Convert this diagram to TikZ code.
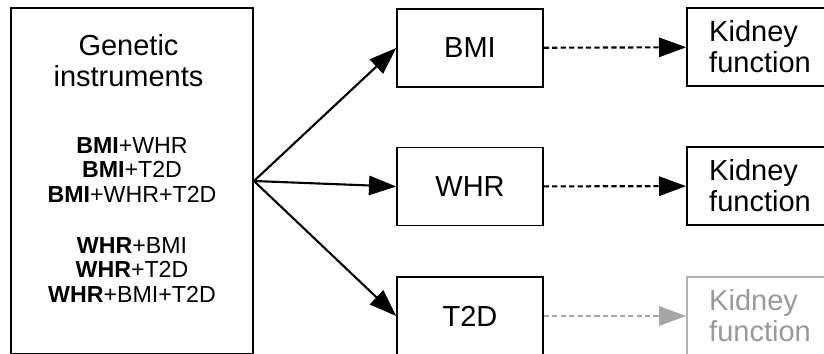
\documentclass[tikz,border=0pt]{standalone}
\usepackage{fontspec}
\setmainfont{Liberation Sans}
\usetikzlibrary{arrows.meta}

\begin{document}
\begin{tikzpicture}[x=0.02cm, y=-0.02cm,
  every node/.style={font=\fontsize{16.5}{17.6}\selectfont},
  box/.style={draw, line width=0.9pt, minimum width=2.92cm, minimum height=1.56cm, inner sep=0pt},
  kidney/.style={box, align=left},
  small/.style={font=\fontsize{13.2}{14.2}\selectfont, align=center},
  arr/.style={-{Triangle[length=15.5pt,width=11pt]}, line width=1.2pt},
  dasharr/.style={arr, dash pattern=on 3pt off 1.8pt},
  faded/.style={draw=black!30, text=black!40}]

\useasboundingbox (0,0) rectangle (824,353);
\clip (0,0) rectangle (824,353);

% ---------- instruments ----------
\node[box, line width=1.1pt, minimum width=4.84cm, minimum height=6.92cm] (gen) at (132,181) {};
\node[align=center] (title) at (128.5,61) {Genetic\\instruments};
\node[small] (bmiset) at (132,170) {\textbf{BMI}+WHR\\\textbf{BMI}+T2D\\\textbf{BMI}+WHR+T2D};
\node[small] (whrset) at (132,270) {\textbf{WHR}+BMI\\\textbf{WHR}+T2D\\\textbf{WHR}+BMI+T2D};

% ---------- exposures ----------
\node[box] (bmi) at (470,48) {BMI};
\node[box] (whr) at (470,186.5) {WHR};
\node[box] (t2d) at (470,316) {T2D};

% ---------- outcome ----------
\node[kidney] (kid1) at (760,47) {Kidney\\function};
\node[kidney] (kid2) at (760,186) {Kidney\\function};
\node[kidney, faded] (kid3) at (760,316) {Kidney\\function};

\draw[arr] (gen.east) -- (bmi.west);
\draw[arr] (gen.east) -- (whr.west);
\draw[arr] (gen.east) -- (t2d.west);

\draw[dasharr] (bmi) -- (kid1);
\draw[dasharr] (whr) -- (kid2);
\draw[dasharr, black!35] (t2d) -- (kid3);

\end{tikzpicture}
\end{document}
